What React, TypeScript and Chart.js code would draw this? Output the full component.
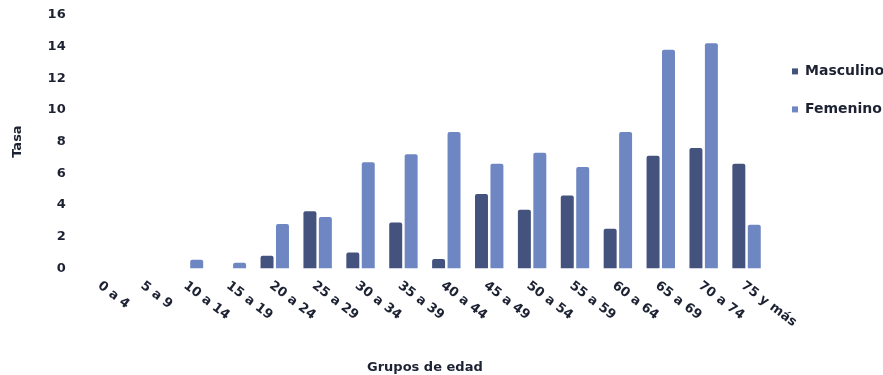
import React, { useEffect, useRef } from "react";
import { Chart, registerables } from "chart.js";

Chart.register(...registerables);

const categories = [
  "0 a 4", "5 a 9", "10 a 14", "15 a 19", "20 a 24", "25 a 29", "30 a 34", "35 a 39",
  "40 a 44", "45 a 49", "50 a 54", "55 a 59", "60 a 64", "65 a 69", "70 a 74", "75 y más",
];
const masculino = [0, 0, 0, 0, 0.8, 3.6, 1.0, 2.9, 0.6, 4.7, 3.7, 4.6, 2.5, 7.1, 7.6, 6.6];
const femenino = [0, 0, 0.55, 0.35, 2.8, 3.25, 6.7, 7.2, 8.6, 6.6, 7.3, 6.4, 8.6, 13.8, 14.2, 2.75];
const yTicks = [0, 2, 4, 6, 8, 10, 12, 14, 16];

const FONT = "'DejaVu Sans', sans-serif";
const TEXT = "#1d2233";

const rotatedLabels = {
  id: "rotatedLabels",
  afterDraw(chart: any) {
    const ctx = chart.ctx;
    const x = chart.scales.x;
    ctx.save();
    ctx.font = `bold 13px ${FONT}`;
    ctx.fillStyle = TEXT;
    ctx.textAlign = "left";
    ctx.textBaseline = "middle";
    categories.forEach((lab, i) => {
      const px = x.getPixelForValue(i);
      ctx.save();
      ctx.translate(px - 4, chart.chartArea.bottom + 16);
      ctx.rotate((37 * Math.PI) / 180);
      ctx.fillText(lab, 0, 0);
      ctx.restore();
    });
    ctx.restore();
  },
};

export default function App() {
  const ref = useRef<HTMLCanvasElement>(null);
  useEffect(() => {
    document.body.style.margin = "0";
    const chart = new Chart(ref.current!, {
      type: "bar",
      data: {
        labels: categories,
        datasets: [
          {
            label: "Masculino",
            data: masculino,
            backgroundColor: "#44527e",
            borderRadius: 2,
            categoryPercentage: 0.72,
            barPercentage: 0.84,
          },
          {
            label: "Femenino",
            data: femenino,
            backgroundColor: "#6e86c2",
            borderRadius: 2,
            categoryPercentage: 0.72,
            barPercentage: 0.84,
          },
        ],
      },
      options: {
        animation: false,
        responsive: false,
        maintainAspectRatio: false,
        layout: { padding: { top: 10, right: 0, left: 0, bottom: 0 } },
        plugins: {
          tooltip: { enabled: false },
          legend: {
            position: "right",
            align: "start",
            maxWidth: 115,
            title: { display: true, text: " ", font: { size: 12 }, padding: 8 },
            labels: {
              boxWidth: 6,
              boxHeight: 6,
              padding: 24,
              color: TEXT,
              font: { family: FONT, weight: "bold", size: 14 },
            },
          },
        },
        scales: {
          x: {
            grid: { display: false, drawTicks: false },
            border: { display: false },
            ticks: { display: false },
            title: {
              display: true,
              text: "Grupos de edad",
              color: TEXT,
              font: { family: FONT, weight: "bold", size: 13 },
              padding: { top: 91, bottom: 0 },
            },
          },
          y: {
            min: 0,
            max: 16,
            afterBuildTicks: (s: any) => {
              s.ticks = yTicks.map((v) => ({ value: v }));
            },
            grid: { display: false, drawTicks: false },
            border: { display: false },
            ticks: {
              padding: 7,
              color: TEXT,
              font: { family: FONT, weight: "bold", size: 13 },
              callback: (v: any) => `${v}  `,
            },
            title: {
              display: true,
              text: "Tasa",
              color: TEXT,
              font: { family: FONT, weight: "bold", size: 13 },
              padding: { top: 10, bottom: 15 },
            },
          },
        },
      },
      plugins: [rotatedLabels],
    });
    return () => chart.destroy();
  }, []);
  return <canvas ref={ref} width={883} height={375} style={{ display: "block" }} />;
}
